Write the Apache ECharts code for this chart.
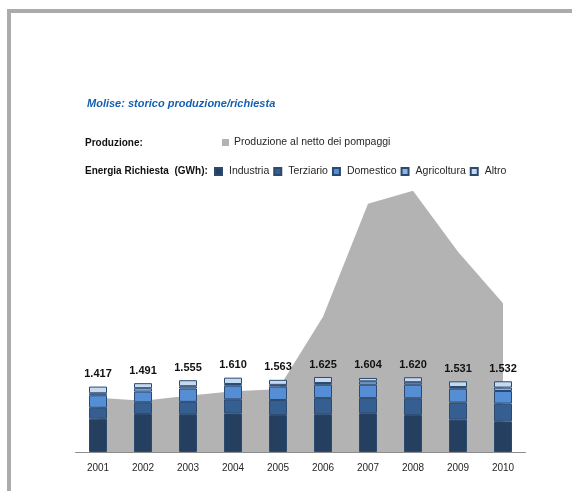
<!DOCTYPE html>
<html>
<head>
<meta charset="utf-8">
<style>
  html, body { margin: 0; padding: 0; background: #ffffff; }
  #chart { width: 572px; height: 491px; }
</style>
<script src="https://cdn.jsdelivr.net/npm/echarts@6/dist/echarts.min.js"></script>
</head>
<body>
<div id="chart"></div>
<script>
// Anni
const anni = ['2001', '2002', '2003', '2004', '2005', '2006', '2007', '2008', '2009', '2010'];

// Energia richiesta per settore (GWh)
const industria   = [720, 822, 819, 835, 800, 818, 839, 799, 702, 664];
const terziario   = [237, 255, 267, 305, 327, 349, 328, 364, 368, 384];
const domestico   = [272, 231, 289, 296, 290, 291, 291, 296, 303, 273];
const agricoltura = [43, 74, 50, 37, 37, 36, 72, 52, 35, 74];
const altro       = [145, 109, 130, 137, 109, 131, 74, 109, 123, 137];

// Produzione al netto dei pompaggi (GWh)
const produzione  = [1176, 1111, 1220, 1317, 1361, 2930, 5375, 5657, 4340, 3220];

// Totale richiesta per anno
const totali = anni.map((_, i) =>
  industria[i] + terziario[i] + domestico[i] + agricoltura[i] + altro[i]);

const fmtIt = n => String(n).replace(/\B(?=(\d{3})+(?!\d))/g, '.');

const FONT = '"Liberation Sans", Arial, sans-serif';
const barBorder = '#2B4A70';

function barSeries(name, data, color, extra) {
  return Object.assign({
    name: name,
    type: 'bar',
    stack: 'richiesta',
    data: data,
    barWidth: 18,
    z: 3,
    itemStyle: { color: color, borderColor: barBorder, borderWidth: 1 },
    emphasis: { disabled: true }
  }, extra || {});
}

const chart = echarts.init(document.getElementById('chart'), null, { renderer: 'canvas' });

chart.setOption({
  animation: false,
  backgroundColor: '#ffffff',
  textStyle: { fontFamily: FONT },
  graphic: [
    // cornice
    { type: 'rect', shape: { x: 7, y: 9, width: 4, height: 482 }, style: { fill: '#ababab' }, silent: true },
    { type: 'rect', shape: { x: 7, y: 9, width: 565, height: 4 }, style: { fill: '#ababab' }, silent: true },
    {
      type: 'text', left: 87, top: 98,
      style: {
        text: 'Molise: storico produzione/richiesta',
        font: 'italic bold 11px ' + FONT,
        fill: '#1660B0'
      }
    },
    {
      type: 'text', left: 85, top: 138,
      style: { text: 'Produzione:', font: 'bold 10px ' + FONT, fill: '#111111' }
    },
    {
      type: 'text', left: 85, top: 166,
      style: { text: 'Energia Richiesta  (GWh):', font: 'bold 10px ' + FONT, fill: '#111111' }
    }
  ],
  legend: [
    {
      data: [{ name: 'Produzione al netto dei pompaggi', icon: 'rect' }],
      left: 222, top: 137, padding: 0,
      itemWidth: 7, itemHeight: 7,
      textStyle: { fontSize: 10.5, color: '#262626', fontFamily: FONT, padding: [0, 0, 0, 0] },
      selectedMode: false
    },
    {
      data: ['Industria', 'Terziario', 'Domestico', 'Agricoltura', 'Altro'].map(n => ({ name: n, icon: 'rect' })),
      left: 214, top: 166, padding: 0,
      itemWidth: 7, itemHeight: 7, itemGap: 4,
      textStyle: { fontSize: 10.5, color: '#262626', fontFamily: FONT, padding: [0, 0, 0, 2] },
      selectedMode: false
    }
  ],
  grid: { left: 75.5, right: 46.5, top: 175, bottom: 39 },
  xAxis: {
    type: 'category',
    data: anni,
    boundaryGap: true,
    axisLine: { show: true, lineStyle: { color: '#8c8c8c', width: 1 } },
    axisTick: { show: false },
    axisLabel: { color: '#262626', fontSize: 10, margin: 11, fontFamily: FONT }
  },
  yAxis: {
    type: 'value', min: 0, max: 6000, show: false,
    splitLine: { show: false }
  },
  series: [
    {
      name: 'Produzione al netto dei pompaggi',
      type: 'line',
      data: produzione,
      symbol: 'none',
      z: 1,
      lineStyle: { width: 0, color: '#b3b3b3' },
      itemStyle: { color: '#b3b3b3' },
      areaStyle: { color: '#b3b3b3', opacity: 1 },
      emphasis: { disabled: true }
    },
    barSeries('Industria', industria, '#243F60'),
    barSeries('Terziario', terziario, '#365F91'),
    barSeries('Domestico', domestico, '#558ED5'),
    barSeries('Agricoltura', agricoltura, '#8EB4E3'),
    barSeries('Altro', altro, '#C6D9F1', {
      label: {
        show: true,
        position: 'top',
        distance: 7,
        fontSize: 11,
        fontWeight: 'bold',
        color: '#111111',
        fontFamily: FONT,
        formatter: p => fmtIt(totali[p.dataIndex])
      }
    })
  ]
});
</script>
</body>
</html>
